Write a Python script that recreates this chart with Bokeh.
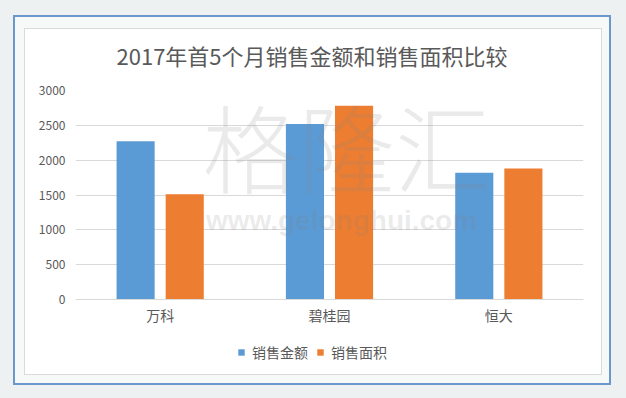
from bokeh.plotting import figure
from bokeh.models import FactorRange, Range1d, FixedTicker, Legend, LegendItem, Label, ColumnDataSource
from bokeh.transform import dodge
from bokeh.embed import file_html
from bokeh.resources import INLINE

categories = ["万科", "碧桂园", "恒大"]
sales_amount = [2270, 2520, 1820]   # 销售金额
sales_area = [1510, 2780, 1880]     # 销售面积
y_ticks = [0, 500, 1000, 1500, 2000, 2500, 3000]
title_text = "2017年首5个月销售金额和销售面积比较"
series_names = ["销售金额", "销售面积"]

FONT = "Noto Sans CJK SC"
W, H = 626, 398
# plot frame in page pixels
F_LEFT, F_RIGHT, F_TOP, F_ZERO, F_BOTTOM = 75, 583, 90, 299, 372
Y_MAX = 3000
px_per_unit = (F_ZERO - F_TOP) / Y_MAX
y_start = -(F_BOTTOM - F_ZERO) / px_per_unit

src = ColumnDataSource(dict(cat=categories, amount=sales_amount, area=sales_area))

p = figure(width=W, height=H, x_range=FactorRange(factors=categories, range_padding=0),
           y_range=Range1d(y_start, Y_MAX), output_backend="svg", toolbar_location=None,
           min_border_left=F_LEFT, min_border_right=W - F_RIGHT,
           min_border_top=F_TOP, min_border_bottom=H - F_BOTTOM)
p.border_fill_alpha = 0
p.background_fill_color = "#ffffff"
p.outline_line_color = None

# page decorations: grey background, blue card border, inner white panel
p.styles = {
    "background-color": "#eef1f1",
    "background-image": ("linear-gradient(#ffffff,#ffffff), linear-gradient(#dadada,#dadada), "
                         "linear-gradient(#f7f8f8,#f7f8f8), linear-gradient(#6b98cc,#6b98cc)"),
    "background-size": "576px 345px, 578px 347px, 594px 366px, 598px 370px",
    "background-position": "25px 29px, 24px 28px, 15px 17px, 13px 15px",
    "background-repeat": "no-repeat",
}

r1 = p.vbar(x=dodge("cat", -0.145, range=p.x_range), top="amount", width=0.225, source=src,
            fill_color="#5b9bd5", line_color=None)
r2 = p.vbar(x=dodge("cat", 0.145, range=p.x_range), top="area", width=0.225, source=src,
            fill_color="#ed7d31", line_color=None)

# watermark
p.add_layout(Label(x=1.600, y=2225, text="格隆汇", text_font="Noto Sans CJK SC Light, Noto Sans CJK SC",
                   text_font_size="96px", text_color="#808080", text_alpha=0.17,
                   text_align="center", text_baseline="middle"))
p.add_layout(Label(x=1.571, y=1134, text="www.gelonghui.com", text_font="Liberation Sans",
                   text_font_size="28px", text_font_style="bold", text_color="#808080", text_alpha=0.17,
                   text_align="center", text_baseline="middle"))

p.title.text = title_text
p.title.align = "left"
p.title.offset = 41
p.title.text_font = FONT
p.title.text_font_size = "22px"
p.title.text_font_style = "normal"
p.title.text_color = "#595959"
p.title.standoff = 39

p.yaxis.ticker = FixedTicker(ticks=y_ticks)
p.yaxis.axis_line_color = None
p.yaxis.major_tick_line_color = None
p.yaxis.major_tick_out = 0
p.yaxis.major_tick_in = 0
p.yaxis.minor_tick_line_color = None
p.yaxis.major_label_text_font = FONT
p.yaxis.major_label_text_font_size = "12px"
p.yaxis.major_label_text_color = "#595959"
p.yaxis.major_label_standoff = 10

p.xaxis.fixed_location = 0
p.xaxis.axis_line_color = "#d9d9d9"
p.xaxis.major_tick_line_color = None
p.xaxis.major_tick_out = 0
p.xaxis.major_tick_in = 0
p.xaxis.minor_tick_line_color = None
p.xaxis.major_label_text_font = FONT
p.xaxis.major_label_text_font_size = "14px"
p.xaxis.major_label_text_color = "#595959"
p.xaxis.major_label_standoff = 5

p.xgrid.grid_line_color = None
p.ygrid.grid_line_color = "#d9d9d9"

legend = Legend(items=[LegendItem(label=series_names[0], renderers=[r1]),
                       LegendItem(label=series_names[1], renderers=[r2])],
                orientation="horizontal", location=(162, 10),
                label_text_font=FONT, label_text_font_size="14px", label_text_color="#595959",
                glyph_width=8, glyph_height=8, spacing=8, label_standoff=7,
                background_fill_alpha=0, border_line_color=None, margin=0, padding=0)
p.add_layout(legend)

open("out.html", "w").write(file_html(p, INLINE))
